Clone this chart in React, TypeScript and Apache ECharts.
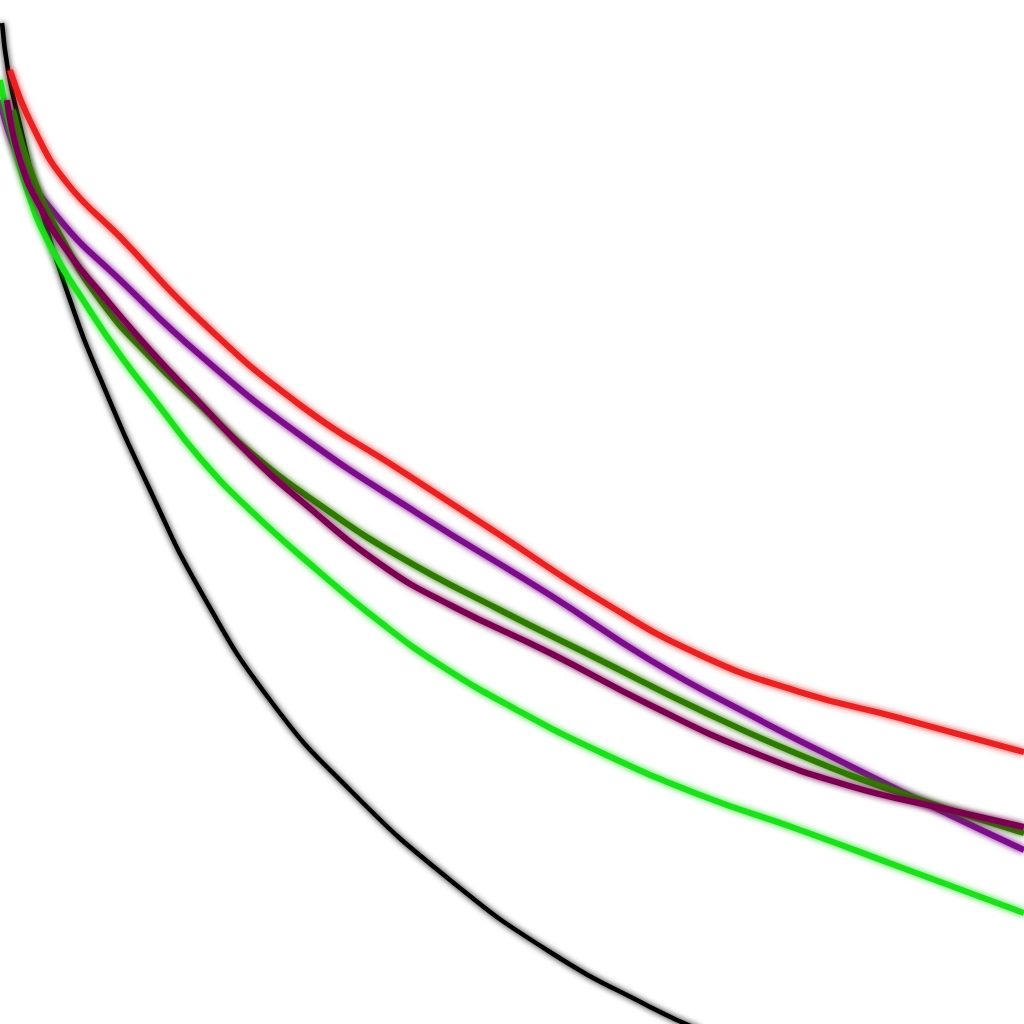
import * as echarts from "echarts";
import React, { useEffect, useRef } from "react";

// values, x and y both on a 0-100 scale
const blackX = [0.2, 0.78, 1.95, 3.91, 6.84, 9.77, 14.65, 19.53, 26.37, 34.18, 43.95, 53.71, 63.48, 68.36];
const blackY = [97.75, 93.16, 87.79, 79.98, 70.7, 63.09, 52.15, 42.38, 31.64, 22.85, 14.06, 7.03, 1.66, -0.59];

const redX = [0.98, 3.22, 6.54, 11.72, 19.53, 29.3, 39.06, 48.83, 58.59, 68.36, 78.13, 87.89, 100];
const redY = [93.16, 87.6, 82.13, 76.86, 68.75, 60.45, 54.1, 47.75, 41.41, 36.04, 32.42, 29.88, 26.56];

const purpleX = [0, 1.95, 5.86, 11.72, 19.53, 29.3, 41.02, 53.71, 63.48, 73.24, 83.01, 92.77, 100];
const purpleY = [90.23, 84.38, 78.52, 72.66, 65.33, 57.52, 49.71, 41.89, 35.55, 30.18, 25.2, 20.41, 16.99];

const oliveX = [1.27, 3.22, 5.86, 9.77, 14.65, 19.53, 24.41, 30.96, 39.06, 48.83, 58.59, 68.36, 78.13, 87.89, 100];
const oliveY = [89.26, 82.71, 77.05, 70.7, 65.14, 60.45, 55.86, 50.88, 45.61, 40.43, 35.55, 30.66, 26.27, 22.56, 18.65];

const maroonX = [0.68, 1.95, 3.91, 6.84, 9.77, 14.65, 19.53, 24.41, 29.3, 37.4, 43.95, 53.71, 63.48, 73.24, 83.01, 92.77, 100];
const maroonY = [90.23, 84.38, 79.79, 75.1, 71.48, 65.82, 60.64, 55.57, 51.17, 44.73, 40.92, 36.23, 31.15, 26.66, 23.24, 20.9, 19.24];

const greenX = [0, 0.98, 2.64, 4.88, 8.3, 11.72, 15.63, 19.53, 24.41, 30.96, 37.11, 42.97, 50.49, 58.59, 68.36, 78.13, 87.89, 100];
const greenY = [92.19, 87.6, 81.45, 76.07, 70.41, 65.33, 60.25, 55.27, 50.2, 44.34, 39.26, 35.06, 30.66, 26.56, 22.36, 18.95, 15.33, 10.84];

const zip = (xs: number[], ys: number[]) => xs.map((x, i) => [x, ys[i]]);

const makeLine = (name: string, color: string, xs: number[], ys: number[], width = 6) => ({
  name,
  type: "line",
  smooth: 0.5,
  showSymbol: false,
  data: zip(xs, ys),
  lineStyle: {
    color,
    width,
    shadowColor: color,
    shadowBlur: 6
  }
});

const App = () => {
  const ref = useRef<HTMLDivElement>(null);

  useEffect(() => {
    const option = {
      animation: false,
      grid: { left: 0, right: 0, top: 0, bottom: 0 },
      xAxis: { type: "value", min: 0, max: 100, show: false },
      yAxis: { type: "value", min: 0, max: 100, show: false },
      series: [
        makeLine("black", "#000000", blackX, blackY, 4.5),
        makeLine("red", "#e82020", redX, redY),
        makeLine("purple", "#7c0a8a", purpleX, purpleY),
        makeLine("olive", "#2f7a06", oliveX, oliveY),
        makeLine("green", "#1ee01e", greenX, greenY),
        makeLine("maroon", "#780050", maroonX, maroonY)
      ]
    };
    const myChart = echarts.init(ref.current, null, { renderer: "svg" });
    myChart.setOption(option);
    return () => {
      myChart.dispose();
    };
  }, []);

  return (
    <div
      ref={ref}
      style={{ position: "absolute", left: 0, top: 0, width: 1024, height: 1024, background: "#fff" }}
    ></div>
  );
};

export default App;
